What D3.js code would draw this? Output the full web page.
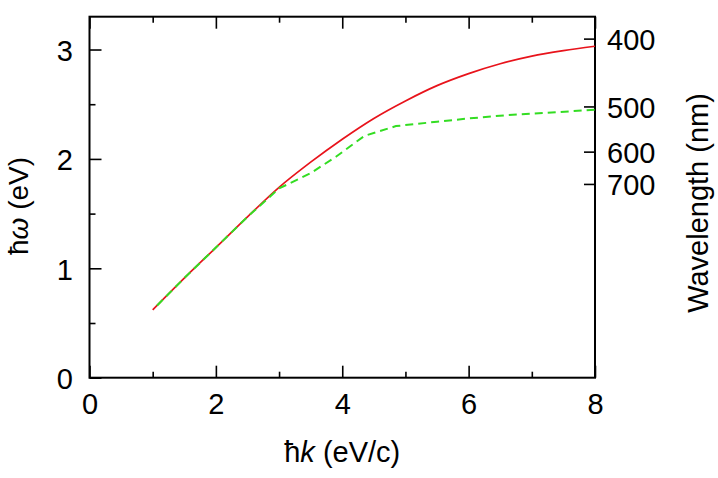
<!DOCTYPE html>
<html>
<head>
<meta charset="utf-8">
<script src="https://cdn.jsdelivr.net/npm/d3@7"></script>
<style>
body { margin: 0; background: #fff; }
svg text { font-family: "Liberation Sans", Arial, sans-serif; fill: #000; }
</style>
</head>
<body>
<div id="chart"></div>
<script>
// data (hbar k in eV/c, hbar omega in eV)
var kRed   = [1.0, 1.5, 2.0, 2.5, 3.0, 3.5, 4.0, 4.5, 5.0, 5.5, 6.0, 6.5, 7.0, 7.5, 8.0];
var eRed   = [0.62, 0.91, 1.19, 1.47, 1.74, 1.97, 2.18, 2.37, 2.53, 2.67, 2.78, 2.87, 2.94, 2.99, 3.03];
var kGreen = [1.07, 1.5, 2.0, 2.5, 3.0, 3.5, 3.9, 4.35, 4.85, 5.5, 6.0, 6.6, 7.2, 8.0];
var eGreen = [0.66, 0.91, 1.19, 1.47, 1.73, 1.87, 2.02, 2.21, 2.30, 2.34, 2.37, 2.40, 2.42, 2.45];

var xTicks = [0, 2, 4, 6, 8];
var xMinor = [1, 3, 5, 7];
var yTicks = [0, 1, 2, 3];
var yMinor = [0.5, 1.5, 2.5];
var wavelengthTicks = [400, 500, 600, 700];
var hc = 1239.84; // eV nm

var margin = {top: 16.7, right: 123, bottom: 100.3, left: 89.5},
    width = 718 - margin.left - margin.right,
    height = 478 - margin.top - margin.bottom;

var x = d3.scaleLinear().domain([0, 8]).range([0, width]);
var y = d3.scaleLinear().domain([0, 3.3]).range([height, 0]);

var svg = d3.select("#chart").append("svg")
    .attr("width", 718)
    .attr("height", 478)
  .append("g")
    .attr("transform", "translate(" + margin.left + "," + margin.top + ")");

function styleAxis(g) {
  g.select(".domain").remove();
  g.selectAll(".tick line").attr("stroke", "#000").attr("stroke-width", 1.6);
  g.selectAll("text").style("font-size", "29px");
}

// bottom axis, ticks pointing in
svg.append("g")
  .attr("transform", "translate(0," + height + ")")
  .call(d3.axisBottom(x).tickValues(xTicks).tickSize(-12).tickPadding(15.5).tickFormat(d3.format("d")))
  .call(styleAxis);
svg.append("g")
  .attr("transform", "translate(0," + height + ")")
  .call(d3.axisBottom(x).tickValues(xMinor).tickSize(-6).tickFormat(""))
  .call(styleAxis);

// top mirror ticks
svg.append("g")
  .call(d3.axisTop(x).tickValues(xTicks).tickSize(-12).tickFormat(""))
  .call(styleAxis);
svg.append("g")
  .call(d3.axisTop(x).tickValues(xMinor).tickSize(-6).tickFormat(""))
  .call(styleAxis);

// left axis
svg.append("g")
  .call(d3.axisLeft(y).tickValues(yTicks).tickSize(-12).tickPadding(16.5).tickFormat(d3.format("d")))
  .call(styleAxis)
  .selectAll("text").attr("dy", "0.38em");
svg.append("g")
  .call(d3.axisLeft(y).tickValues(yMinor).tickSize(-6).tickFormat(""))
  .call(styleAxis);

// right axis: wavelength in nm, placed at E = hc / lambda
svg.append("g")
  .attr("transform", "translate(" + width + ",0)")
  .call(d3.axisRight(y)
    .tickValues(wavelengthTicks.map(function(l) { return hc / l; }))
    .tickSize(-11).tickPadding(12)
    .tickFormat(function(d) { return Math.round(hc / d); }))
  .call(styleAxis)
  .selectAll("text").attr("dy", "0.38em");

// frame
svg.append("rect")
  .attr("width", width)
  .attr("height", height)
  .attr("fill", "none")
  .attr("stroke", "#000")
  .attr("stroke-width", 2);

var line = d3.line()
  .x(function(d) { return x(d[0]); })
  .y(function(d) { return y(d[1]); });

svg.append("path")
  .datum(d3.zip(kRed, eRed))
  .attr("d", line.curve(d3.curveMonotoneX))
  .attr("fill", "none")
  .attr("stroke", "#e8131b")
  .attr("stroke-width", 1.7);

svg.append("path")
  .datum(d3.zip(kGreen, eGreen))
  .attr("d", line.curve(d3.curveLinear))
  .attr("fill", "none")
  .attr("stroke", "#33dd22")
  .attr("stroke-width", 2)
  .attr("stroke-dasharray", "8,5");

// axis titles
svg.append("text")
  .attr("x", width / 2)
  .attr("y", 462 - margin.top)
  .attr("text-anchor", "middle")
  .style("font-size", "29px")
  .html("ħ<tspan font-style='italic'>k</tspan> (eV/c)");

svg.append("text")
  .attr("transform", "translate(" + (28 - margin.left) + "," + (206 - margin.top) + ") rotate(-90)")
  .attr("text-anchor", "middle")
  .style("font-size", "28px")
  .html("ħ<tspan font-style='italic'>ω</tspan> (eV)");

svg.append("text")
  .attr("transform", "translate(" + (708 - margin.left) + "," + (203 - margin.top) + ") rotate(-90)")
  .attr("text-anchor", "middle")
  .style("font-size", "29px")
  .text("Wavelength (nm)");
</script>
</body>
</html>
